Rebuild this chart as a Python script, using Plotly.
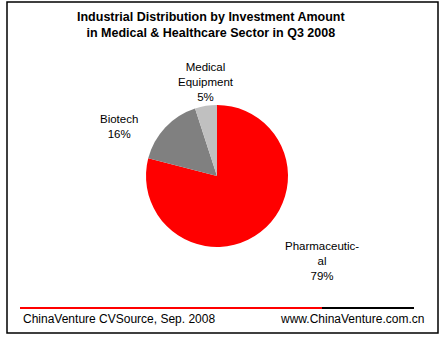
import plotly.graph_objects as go

categories = ["Pharmaceutical", "Biotech", "Medical Equipment"]
values = [79, 16, 5]
label_texts = ["Pharmaceutic-<br>al", "Biotech", "Medical<br>Equipment"]
colors = ["#FF0000", "#808080", "#C0C0C0"]
title_lines = ["Industrial Distribution by Investment Amount",
               "in Medical & Healthcare Sector in Q3 2008"]
footer_left = "ChinaVenture CVSource, Sep. 2008"
footer_right = "www.ChinaVenture.com.cn"

W, H = 445, 337
FONT = "Arial, Liberation Sans, sans-serif"

def px(x):
    return x / W

def py(y):
    return 1 - y / H

fig = go.Figure()
fig.add_trace(go.Pie(
    labels=categories, values=values, sort=False, direction="clockwise",
    rotation=0, textinfo="none", hoverinfo="label+percent",
    marker=dict(colors=colors, line=dict(width=0)),
    domain=dict(x=[px(146), px(288)], y=[py(247), py(105)]),
    showlegend=False,
))

# label positions (pixel centres)
label_pos = [(322, 261), (119, 126), (206, 82)]
annotations = []
total = sum(values)
for txt, v, (lx, ly) in zip(label_texts, values, label_pos):
    pct = round(100 * v / total)
    annotations.append(dict(
        x=px(lx), y=py(ly), xref="paper", yref="paper", showarrow=False,
        text=f"{txt}<br>{pct}%", align="center",
        font=dict(family=FONT, size=11.5, color="black"),
        xanchor="center", yanchor="middle"))

annotations.append(dict(
    x=px(211), y=py(25), xref="paper", yref="paper", showarrow=False,
    text="<b>" + "<br>".join(title_lines) + "</b>", align="center",
    font=dict(family=FONT, size=12.5, color="black"),
    xanchor="center", yanchor="middle"))
annotations.append(dict(
    x=px(21), y=py(319), xref="paper", yref="paper", showarrow=False,
    text=footer_left, font=dict(family=FONT, size=12, color="black"),
    xanchor="left", yanchor="middle"))
annotations.append(dict(
    x=px(426), y=py(319), xref="paper", yref="paper", showarrow=False,
    text=footer_right, font=dict(family=FONT, size=12, color="black"),
    xanchor="right", yanchor="middle"))

shapes = [
    dict(type="rect", xref="paper", yref="paper",
         x0=px(7), x1=px(438), y0=py(333), y1=py(2),
         line=dict(color="black", width=1.5)),
    dict(type="line", xref="paper", yref="paper",
         x0=px(20), x1=px(322), y0=py(308), y1=py(308),
         line=dict(color="#FF0000", width=2)),
    dict(type="line", xref="paper", yref="paper",
         x0=px(322), x1=px(414), y0=py(308), y1=py(308),
         line=dict(color="black", width=2)),
]

fig.update_layout(
    width=W, height=H, margin=dict(l=0, r=0, t=0, b=0),
    paper_bgcolor="white", plot_bgcolor="white",
    annotations=annotations, shapes=shapes,
)
fig.write_html("out.html")
